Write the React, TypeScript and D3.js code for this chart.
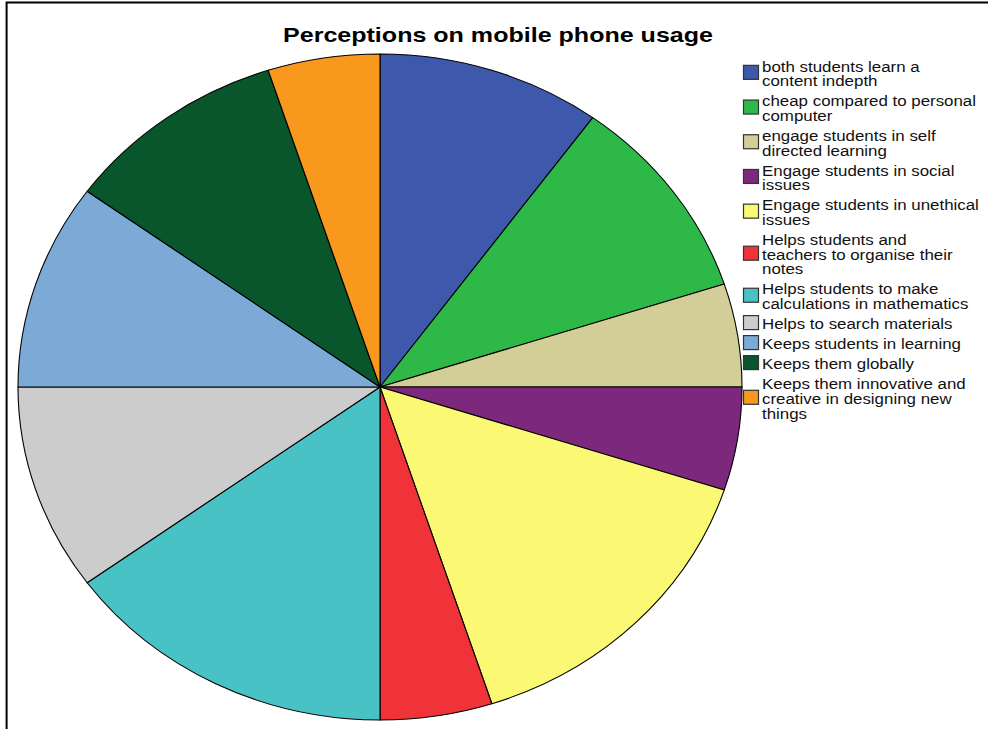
import React from "react";
import * as d3 from "d3";

const title = "Perceptions on mobile phone usage";

const categories = [
  "both students learn a content indepth",
  "cheap compared to personal computer",
  "engage students in self directed learning",
  "Engage students in social issues",
  "Engage students in unethical issues",
  "Helps students and teachers to organise their notes",
  "Helps students to make calculations in mathematics",
  "Helps to search materials",
  "Keeps students in learning",
  "Keeps them globally",
  "Keeps them innovative and creative in designing new things",
];

const categoryLines = [
  ["both students learn a", "content indepth"],
  ["cheap compared to personal", "computer"],
  ["engage students in self", "directed learning"],
  ["Engage students in social", "issues"],
  ["Engage students in unethical", "issues"],
  ["Helps students and", "teachers to organise their", "notes"],
  ["Helps students to make", "calculations in mathematics"],
  ["Helps to search materials"],
  ["Keeps students in learning"],
  ["Keeps them globally"],
  ["Keeps them innovative and", "creative in designing new", "things"],
];

const values = [2, 2, 1, 1, 3, 1, 3, 2, 2, 2, 1];

const colors = [
  "#3E58AC",
  "#2EB848",
  "#D3CE97",
  "#7C287D",
  "#FBF873",
  "#EF3338",
  "#48C2C5",
  "#CCCCCC",
  "#7AAAD5",
  "#0A562C",
  "#F8981D",
];

export default function App() {
  const cx = 380;
  const cy = 387;
  const rx = 362;
  const ry = 333;

  const pieData = d3
    .pie<number>()
    .sort(null)
    .value((d) => d)(values);
  const arc = d3
    .arc<d3.PieArcDatum<number>>()
    .innerRadius(0)
    .outerRadius(ry);

  // legend layout
  const b0 = 71.5;
  const lineStep = 14.7;
  const itemStep = 20;
  let cur = b0;
  const legendItems = categories.map((cat, i) => {
    const lines = categoryLines[i];
    const baselines = lines.map((_, j) => cur + j * lineStep);
    cur = baselines[baselines.length - 1] + itemStep;
    const avg = d3.mean(baselines) as number;
    return { cat, lines, baselines, swatchY: avg - 6.5 - 7, color: colors[i] };
  });

  const font = "Arial, 'Liberation Sans', sans-serif";

  return (
    <svg
      width={988}
      height={729}
      style={{ position: "absolute", left: 0, top: 0, background: "#fff" }}
    >
      <rect x={0} y={0} width={988} height={729} fill="#fff" />
      <path d="M6.6,729 V2.6 H988" fill="none" stroke="#000" strokeWidth={2} />
      <text
        x={498}
        y={42}
        textAnchor="middle"
        fontFamily={font}
        fontWeight="bold"
        fontSize={21}
        textLength={430}
        lengthAdjust="spacingAndGlyphs"
        fill="#000"
      >
        {title}
      </text>
      <g transform={`translate(${cx},${cy}) scale(${rx / ry},1)`}>
        {pieData.map((d, i) => (
          <path
            key={categories[i]}
            d={arc(d) as string}
            fill={colors[i]}
            stroke="#000"
            strokeWidth={1.1}
            vectorEffect="non-scaling-stroke"
            strokeLinejoin="round"
          />
        ))}
      </g>
      <g>
        {legendItems.map((it) => (
          <g key={it.cat}>
            <rect
              x={743.5}
              y={it.swatchY}
              width={15}
              height={14}
              fill={it.color}
              stroke="#333"
              strokeWidth={1.2}
            />
            {it.lines.map((ln, j) => (
              <text
                key={j}
                transform={`translate(762,${it.baselines[j]}) scale(1.09,1)`}
                fontFamily={font}
                fontSize={15.5}
                fill="#111"
              >
                {ln}
              </text>
            ))}
          </g>
        ))}
      </g>
    </svg>
  );
}
